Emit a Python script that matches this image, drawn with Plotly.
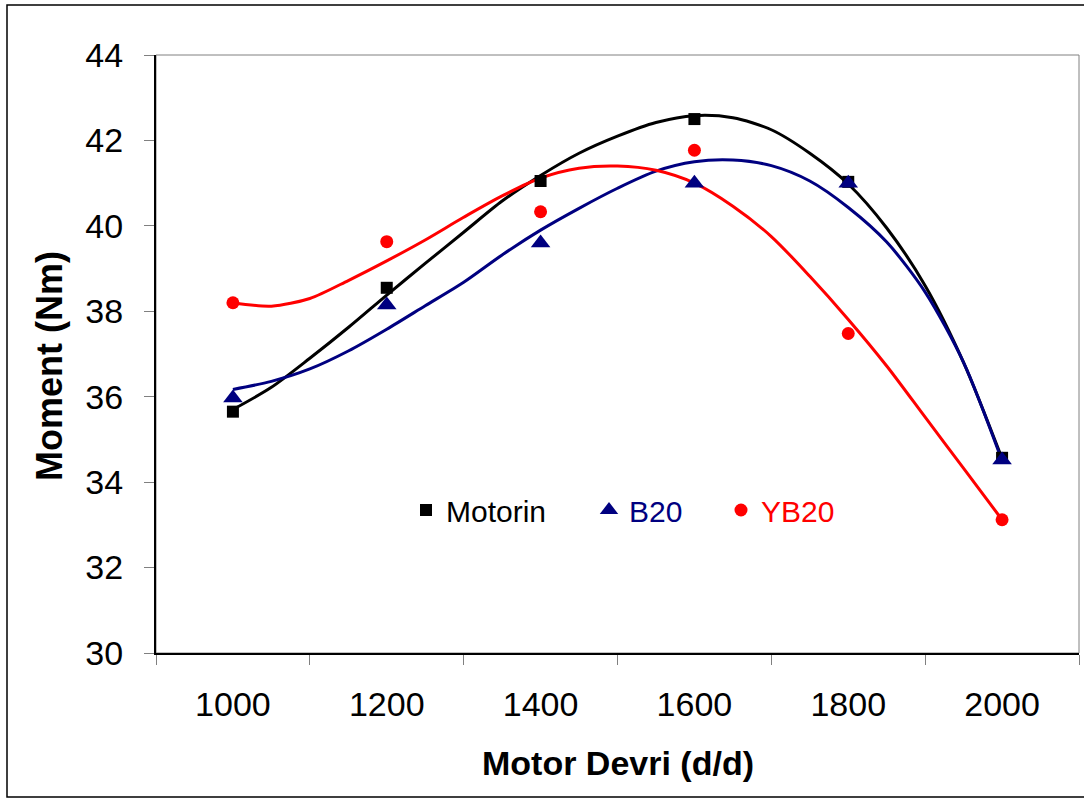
import plotly.graph_objects as go

# Measured points
rpm = [1000, 1200, 1400, 1600, 1800, 2000]
motorin = [35.65, 38.55, 41.05, 42.50, 41.03, 34.57]
b20 = [35.97, 38.15, 39.60, 41.00, 41.00, 34.52]
yb20 = [38.20, 39.63, 40.33, 41.77, 37.48, 33.12]

# Trend curves
trend_rpm = [1000, 1050, 1100, 1150, 1200, 1250, 1300, 1350, 1400, 1450, 1500,
             1550, 1600, 1650, 1700, 1750, 1800, 1850, 1900, 1950, 2000]
motorin_trend = [35.70, 36.22, 36.90, 37.62, 38.38, 39.12, 39.85, 40.58, 41.18, 41.70, 42.10,
                 42.42, 42.58, 42.53, 42.25, 41.70, 40.98, 39.95, 38.60, 36.80, 34.55]
b20_trend = [36.17, 36.36, 36.65, 37.07, 37.58, 38.13, 38.68, 39.32, 39.90, 40.41, 40.88,
             41.28, 41.50, 41.54, 41.41, 41.05, 40.43, 39.62, 38.45, 36.80, 34.50]
yb20_trend = [38.20, 38.12, 38.30, 38.72, 39.18, 39.67, 40.20, 40.70, 41.12, 41.35, 41.40,
              41.30, 41.00, 40.46, 39.75, 38.82, 37.81, 36.72, 35.52, 34.32, 33.12]

x_labels = ["1000", "1200", "1400", "1600", "1800", "2000"]
x_boundaries = [900, 1100, 1300, 1500, 1700, 1900, 2100]
y_ticks = [30, 32, 34, 36, 38, 40, 42, 44]

BLACK = "#000000"
NAVY = "#000080"
RED = "#FF0000"
FONT = "Liberation Sans, Arial, sans-serif"

fig = go.Figure()

series = [
    ("Motorin", motorin, motorin_trend, BLACK, "square", 12, 138),
    ("B20", b20, b20_trend, NAVY, "triangle-up", 17, 87),
    ("YB20", yb20, yb20_trend, RED, "circle", 13, 80),
]

for name, pts, trend, col, sym, size, lw in series:
    fig.add_trace(go.Scatter(
        x=trend_rpm, y=trend, mode="lines",
        line=dict(color=col, width=3, shape="spline", smoothing=0.8),
        showlegend=False, hoverinfo="skip"))

for name, pts, trend, col, sym, size, lw in series:
    fig.add_trace(go.Scatter(
        x=rpm, y=pts, mode="markers",
        marker=dict(symbol=sym, size=size, color=col, line=dict(width=0)),
        name=f"<span style='color:{col}'>{name}</span>",
        legendwidth=lw))

W, H = 1084, 799
L, R, T, B = 156, 5, 55, 146
pw = W - L - R
ph = H - T - B

def px2paper_x(px):
    return (px - L) / pw

def py2paper_y(py):
    return (T + ph - py) / ph

fig.update_layout(
    width=W, height=H,
    margin=dict(l=L, r=R, t=T, b=B),
    paper_bgcolor="white", plot_bgcolor="white",
    font=dict(family=FONT, color="black"),
    showlegend=True,
    legend=dict(
        orientation="h",
        x=px2paper_x(406), xanchor="left",
        y=py2paper_y(510), yanchor="middle",
        bgcolor="rgba(0,0,0,0)", borderwidth=0,
        font=dict(family=FONT, size=30, color="black"),
        itemsizing="trace",
    ),
    xaxis=dict(
        range=[900, 2100], tickmode="array", tickvals=rpm, ticktext=x_labels,
        ticks="", showgrid=False, zeroline=False,
        showline=True, linecolor="black", linewidth=2,
        tickfont=dict(family=FONT, size=34, color="black"),
        ticklabelstandoff=20,
        minor=dict(tickvals=x_boundaries, ticks="outside", ticklen=10,
                   tickcolor="#808080", tickwidth=1, showgrid=False),
    ),
    yaxis=dict(
        range=[30, 44], tickmode="array", tickvals=y_ticks,
        ticks="outside", ticklen=10, tickcolor="#808080", tickwidth=1,
        showgrid=False, zeroline=False,
        showline=True, linecolor="black", linewidth=2,
        tickfont=dict(family=FONT, size=34, color="black"),
        ticklabelstandoff=14,
    ),
    shapes=[
        dict(type="rect", xref="paper", yref="paper", x0=0, x1=1, y0=0, y1=1,
             line=dict(color="#808080", width=1), layer="below"),
        dict(type="rect", xref="paper", yref="paper",
             x0=px2paper_x(7), x1=px2paper_x(1095), y0=py2paper_y(797), y1=py2paper_y(5),
             line=dict(color="black", width=1.5), layer="below"),
    ],
    annotations=[
        dict(text="<b>Motor Devri (d/d)</b>", xref="paper", yref="paper",
             x=px2paper_x(618), y=py2paper_y(763), xanchor="center", yanchor="middle",
             showarrow=False, font=dict(family=FONT, size=34, color="black")),
        dict(text="<b>Moment (Nm)</b>", xref="paper", yref="paper",
             x=px2paper_x(49), y=py2paper_y(366), xanchor="center", yanchor="middle",
             textangle=-90, showarrow=False, font=dict(family=FONT, size=36, color="black")),
    ],
)

fig.write_html("out.html")
